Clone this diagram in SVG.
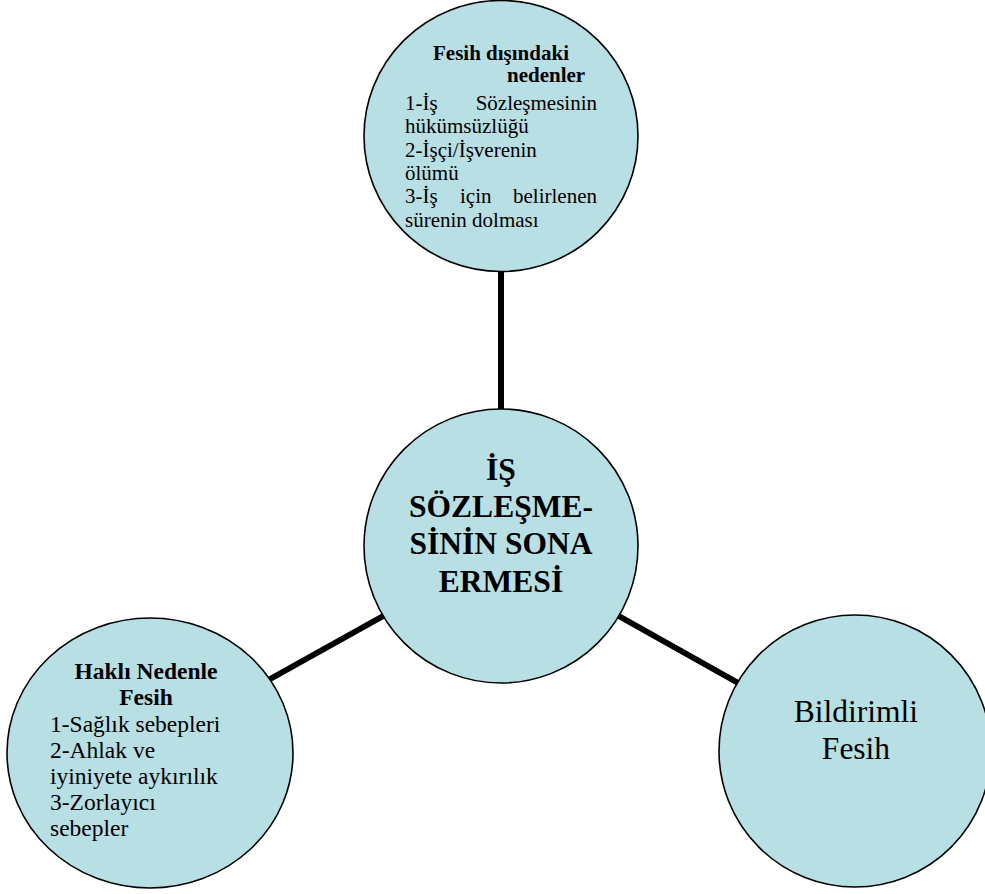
<svg xmlns="http://www.w3.org/2000/svg" width="985" height="894" viewBox="0 0 985 894" font-family="'Liberation Serif', 'Times New Roman', serif">
<style>
.node{fill:#B8DFE4;stroke:#000;stroke-width:1.6}
.conn{stroke:#000;stroke-width:6;fill:none}
text{font-family:"Liberation Serif","Times New Roman",serif;fill:#000}
.b{font-weight:bold}
.s21{font-size:21px}
.s23{font-size:23.5px}
.s31{font-size:31.5px}
</style>
<rect width="985" height="894" fill="#fff"/>
<g id="connectors">
<line class="conn" x1="501" y1="268" x2="501" y2="414"/>
<line class="conn" x1="263" y1="683" x2="385" y2="615"/>
<line class="conn" x1="617" y1="615" x2="740" y2="684"/>
</g>
<g id="node-top">
<ellipse class="node" cx="501" cy="136" rx="137" ry="135.5"/>
<text class="b s21" x="501" y="60" text-anchor="middle">Fesih dışındaki</text>
<text class="b s21" x="507" y="82">nedenler</text>
<text class="s21" x="405" y="110">1-İş</text>
<text class="s21" x="597" y="110" text-anchor="end">Sözleşmesinin</text>
<text class="s21" x="405" y="133">hükümsüzlüğü</text>
<text class="s21" x="405" y="157">2-İşçi/İşverenin</text>
<text class="s21" x="405" y="180">ölümü</text>
<text class="s21" x="405" y="203">3-İş</text>
<text class="s21" x="460" y="203">için</text>
<text class="s21" x="597" y="203" text-anchor="end">belirlenen</text>
<text class="s21" x="405" y="227">sürenin dolması</text>
</g>
<g id="node-center">
<circle class="node" cx="501" cy="546" r="137"/>
<text class="b s31" x="501" y="480" text-anchor="middle">İŞ</text>
<text class="b s31" x="501" y="517" text-anchor="middle">SÖZLEŞME-</text>
<text class="b s31" x="501" y="554" text-anchor="middle">SİNİN SONA</text>
<text class="b s31" x="501" y="592" text-anchor="middle">ERMESİ</text>
</g>
<g id="node-left">
<ellipse class="node" cx="150" cy="753" rx="143" ry="135"/>
<text class="b s23" x="146" y="679" text-anchor="middle">Haklı Nedenle</text>
<text class="b s23" x="146" y="705" text-anchor="middle">Fesih</text>
<text class="s23" x="50" y="732">1-Sağlık sebepleri</text>
<text class="s23" x="50" y="758">2-Ahlak ve</text>
<text class="s23" x="50" y="784">iyiniyete aykırılık</text>
<text class="s23" x="50" y="810">3-Zorlayıcı</text>
<text class="s23" x="50" y="836">sebepler</text>
</g>
<g id="node-right">
<circle class="node" cx="855" cy="751" r="136"/>
<text class="s31" x="856" y="722" text-anchor="middle">Bildirimli</text>
<text class="s31" x="856" y="759" text-anchor="middle">Fesih</text>
</g>
</svg>
